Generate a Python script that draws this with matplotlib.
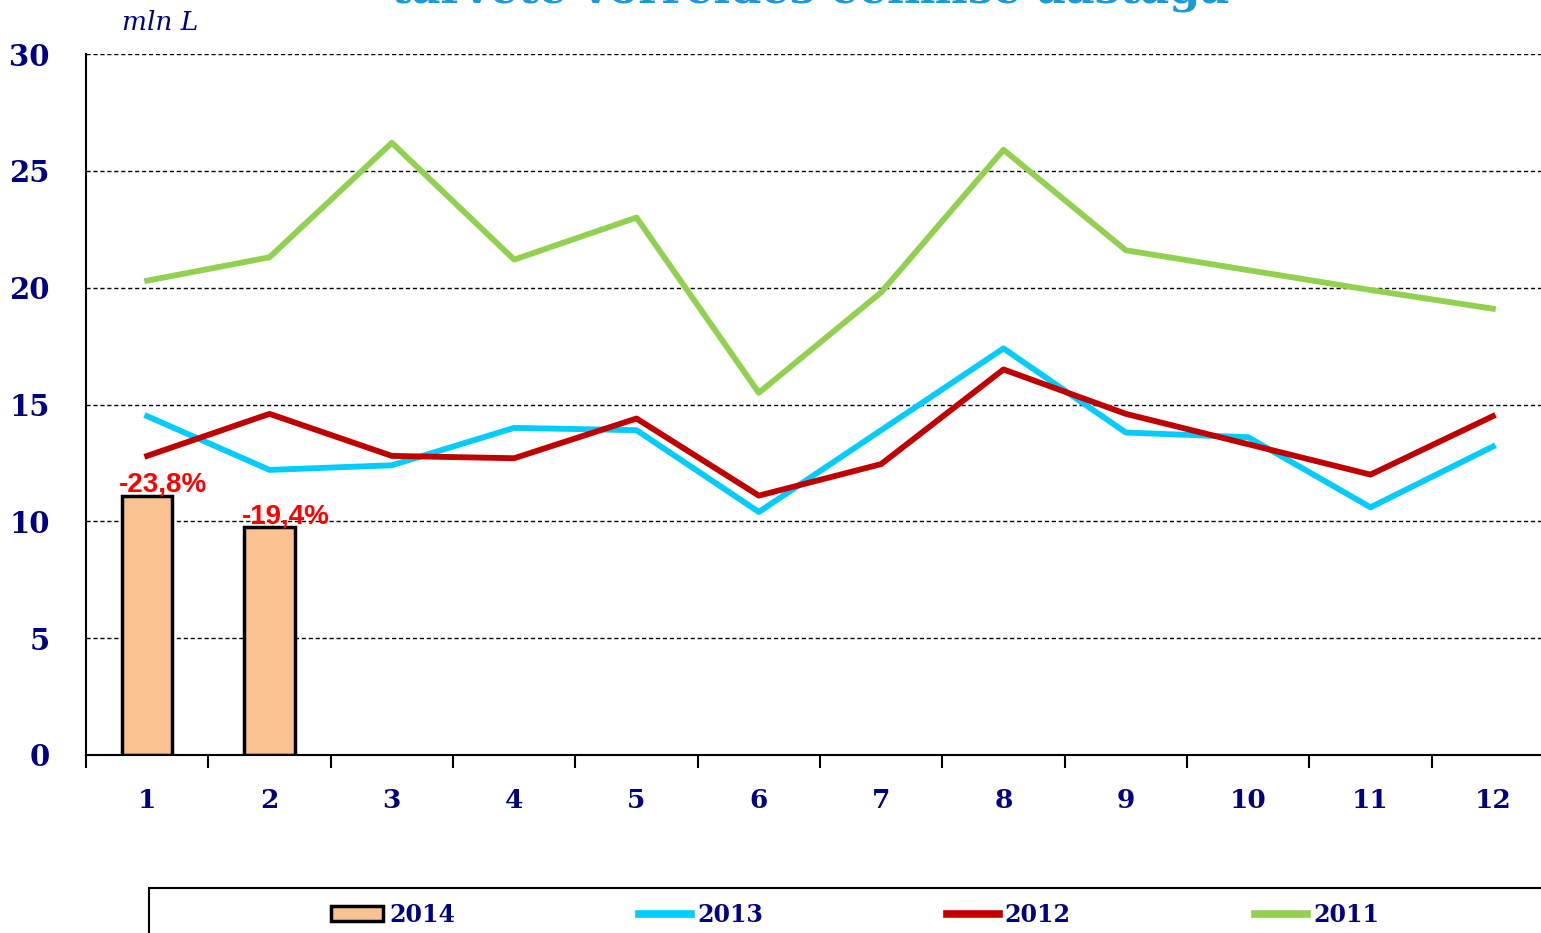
import matplotlib
matplotlib.use("Agg")
import matplotlib.pyplot as plt
from matplotlib.patches import Rectangle, Patch
from matplotlib.lines import Line2D
import numpy as np

months = [1, 2, 3, 4, 5, 6, 7, 8, 9, 10, 11, 12]
y2014 = [11.1, 9.75]
y2013 = [14.5, 12.2, 12.4, 14.0, 13.9, 10.4, 13.9, 17.4, 13.8, 13.6, 10.6, 13.2]
y2012 = [12.8, 14.6, 12.8, 12.7, 14.4, 11.1, 12.45, 16.5, 14.6, 13.3, 12.0, 14.5]
y2011 = [20.3, 21.3, 26.2, 21.2, 23.0, 15.5, 19.8, 25.9, 21.6, 20.75, 19.9, 19.1]
bar_labels = ["-23,8%", "-19,4%"]
title = "tarvete võrreldes eelmise aastaga"

navy = "#000080"
c2014 = "#f9c290"
c2013 = "#00ccff"
c2012 = "#c00000"
c2011 = "#92d050"

fig = plt.figure(figsize=(15.41, 9.33), dpi=100)
# axes run slightly past the right edge like the original
ax = fig.add_axes([86 / 1541, 1 - 755 / 933, 1468 / 1541, 701 / 933])
ax.set_xlim(0.5, 12.5)
ax.set_ylim(0, 30)

for y in range(5, 31, 5):
    ax.axhline(y, color="black", lw=1.0, ls=(0, (3, 2)), zorder=1)

ax.bar(months[:len(y2014)], y2014, width=0.41, color=c2014, edgecolor="black",
       linewidth=2.5, zorder=2)
for x, v, lab in zip(months, y2014, bar_labels):
    ax.text(x + 0.13, v - 0.1, lab, color="red", fontsize=20, fontweight="bold",
            family="Liberation Sans", ha="center", va="bottom", zorder=5)

ax.plot(months, y2013, color=c2013, lw=4.2, zorder=3)
ax.plot(months, y2012, color=c2012, lw=4.2, zorder=4)
ax.plot(months, y2011, color=c2011, lw=4.2, zorder=3)

ax.spines["top"].set_visible(False)
ax.spines["right"].set_visible(False)
ax.spines["left"].set_linewidth(1.5)
ax.spines["bottom"].set_linewidth(1.5)

ax.set_yticks(range(0, 31, 5))
ax.tick_params(axis="y", length=0, pad=26)
ax.set_xticks(np.arange(0.5, 13, 1), minor=False)
ax.set_xticklabels([])
ax.tick_params(axis="x", which="major", direction="out", length=9, width=1.5)
ax.set_xticks(months, minor=True)
ax.set_xticklabels([str(m) for m in months], minor=True)
ax.tick_params(axis="x", which="minor", length=0, pad=24)
for lab in ax.get_xticklabels(minor=True):
    lab.set_fontsize(19)
for lab in ax.get_yticklabels():
    lab.set_fontsize(21)
for lab in ax.get_yticklabels() + ax.get_xticklabels(minor=True):
    lab.set_family("DejaVu Serif")
    lab.set_fontweight("bold")
    lab.set_color(navy)

fig.text(160 / 1541, 1 - 22 / 933, "mln L", family="DejaVu Serif", style="italic",
         color=navy, fontsize=19, ha="center", va="center")
fig.text(810 / 1541, 1 - 3 / 933, title, family="DejaVu Serif", fontweight="bold",
         color="#1a9ad6", fontsize=32, ha="center", va="baseline")

# legend frame
fig.patches.append(Rectangle((149 / 1541, -0.05), 1.0, 0.05 + (933 - 888) / 933,
                             transform=fig.transFigure, fill=False,
                             edgecolor="black", lw=1.5))
handles = [Patch(facecolor=c2014, edgecolor="black", lw=2.5),
           Line2D([], [], color=c2013, lw=5.5),
           Line2D([], [], color=c2012, lw=5.5),
           Line2D([], [], color=c2011, lw=5.5)]
leg = fig.legend(handles, ["2014", "2013", "2012", "2011"], ncol=4, frameon=False,
                 loc="center", bbox_to_anchor=(855 / 1541, 1 - 915 / 933),
                 handlelength=2.2, handleheight=0.6, handletextpad=0.25,
                 columnspacing=7.8,
                 prop={"family": "DejaVu Serif", "weight": "bold", "size": 17})
for t in leg.get_texts():
    t.set_color(navy)

fig.savefig("out.png", dpi=100)
